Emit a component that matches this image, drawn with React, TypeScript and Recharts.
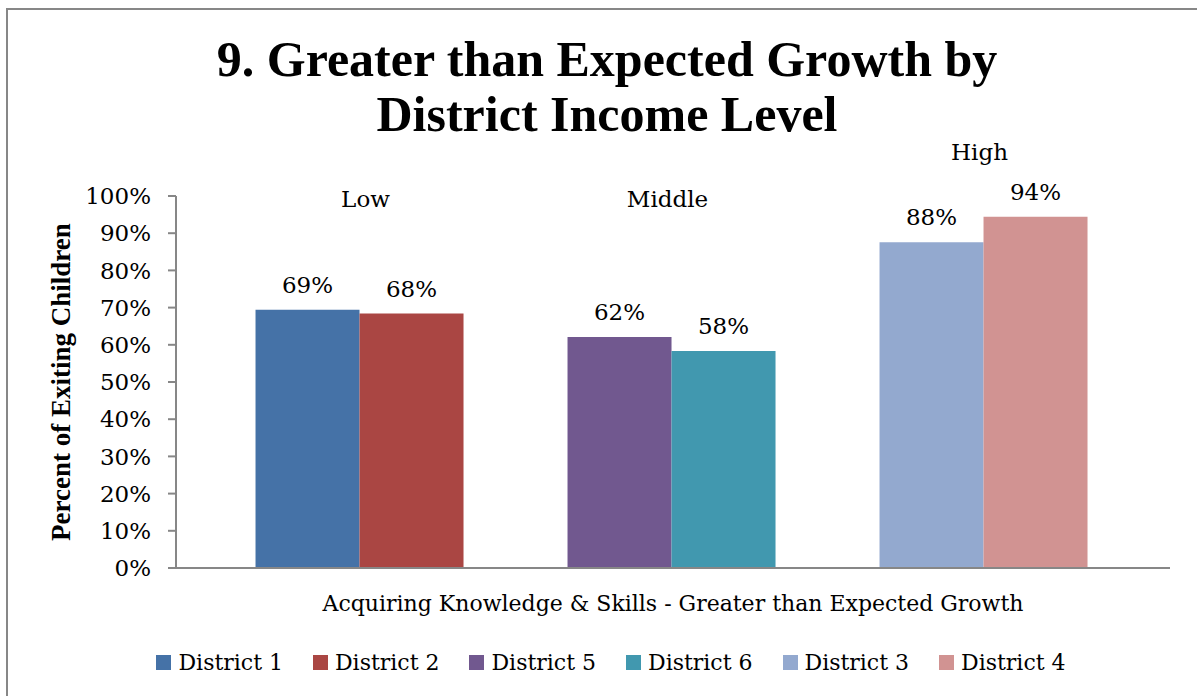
import React from "react"
import { BarChart, Bar, XAxis, YAxis, LabelList, Legend } from "recharts"

const category = "Acquiring Knowledge & Skills - Greater than Expected Growth"
const districts = ["District 1", "District 2", "District 5", "District 6", "District 3", "District 4"]
const values = [0.694, 0.684, 0.621, 0.583, 0.876, 0.944]
const groups = ["Low", "Middle", "High"]
const yTicks = [0, 0.1, 0.2, 0.3, 0.4, 0.5, 0.6, 0.7, 0.8, 0.9, 1]

const colors = ["#4572A7", "#AA4643", "#71588F", "#4198AF", "#93A9CF", "#D19392"]
const groupLabelY = [201, 201, 154]
const groupLabelDx = [6, -4, -4]

const serif = "'DejaVu Serif', serif"
const axisGray = "#878787"

// one row, with an empty slot between each pair of districts
const row: Record<string, string | number | null> = { name: category }
districts.forEach((d, i) => {
  row[d] = values[i]
})
row.gapA = null
row.gapB = null
const data = [row]

const slots = [districts[0], districts[1], "gapA", districts[2], districts[3], "gapB", districts[4], districts[5]]

const pct = (v: number) => `${Math.round(v * 100)}%`

function YTitle(props: any) {
  const vb = props.viewBox || {}
  const cx = vb.x + 64
  const cy = vb.y + vb.height / 2
  return (
    <text
      x={cx}
      y={cy}
      transform={`rotate(-90 ${cx} ${cy})`}
      textAnchor="middle"
      dominantBaseline="middle"
      fontFamily="'Liberation Serif', serif"
      fontWeight="bold"
      fontSize={27}
      fill="#000"
    >
      Percent of Exiting Children
    </text>
  )
}

function XTitle(props: any) {
  const vb = props.viewBox || {}
  return (
    <text
      x={vb.x + vb.width / 2}
      y={vb.y + 37}
      textAnchor="middle"
      dominantBaseline="middle"
      fontFamily={serif}
      fontSize={22}
      fill="#000"
    >
      {category}
    </text>
  )
}

function groupLabel(gi: number) {
  return (props: any) => {
    if (props.index !== 0) return null
    return (
      <text
        x={props.x + groupLabelDx[gi]}
        y={groupLabelY[gi]}
        textAnchor="middle"
        dominantBaseline="middle"
        fontFamily={serif}
        fontSize={23}
        fill="#000"
      >
        {groups[gi]}
      </text>
    )
  }
}

function LegendBox() {
  return (
    <div style={{ display: "flex", justifyContent: "center", gap: 30, fontFamily: serif, fontSize: 22 }}>
      {districts.map((d, i) => (
        <div key={d} style={{ display: "flex", alignItems: "center", gap: 7 }}>
          <span style={{ width: 15, height: 15, background: colors[i], display: "inline-block" }} />
          <span>{d}</span>
        </div>
      ))}
    </div>
  )
}

export default function App() {
  return (
    <div style={{ position: "absolute", left: 0, top: 0, width: 1197, height: 696, overflow: "hidden", background: "#fff" }}>
      <div
        style={{
          position: "absolute",
          left: 6,
          top: 8,
          width: 1300,
          height: 800,
          border: `2px solid ${axisGray}`,
        }}
      />
      <div
        style={{
          position: "absolute",
          left: 0,
          top: 32,
          width: 1214,
          textAlign: "center",
          fontFamily: "'Liberation Serif', serif",
          fontWeight: "bold",
          fontSize: 50,
          lineHeight: "55px",
        }}
      >
        9. Greater than Expected Growth by
        <br />
        District Income Level
      </div>
      <div style={{ position: "absolute", left: 0, top: 0 }}>
        <BarChart
          width={1197}
          height={696}
          data={data}
          margin={{ top: 196, right: 27, left: 0, bottom: 0 }}
          barCategoryGap="8%"
          barGap={0}
        >
          <XAxis
            dataKey="name"
            height={128}
            tick={false}
            tickLine={false}
            axisLine={{ stroke: axisGray, strokeWidth: 2 }}
            label={<XTitle />}
          />
          <YAxis
            width={176}
            domain={[0, 1]}
            ticks={yTicks}
            interval={0}
            tickFormatter={pct}
            tickSize={8}
            tickMargin={17}
            axisLine={{ stroke: axisGray, strokeWidth: 2 }}
            tickLine={{ stroke: axisGray, strokeWidth: 2 }}
            tick={{ fill: "#000", fontFamily: serif, fontSize: 23 }}
            label={<YTitle />}
          />
          <Legend
            layout="horizontal"
            verticalAlign="middle"
            align="center"
            wrapperStyle={{ top: 650, left: 0, width: 1222 }}
            content={<LegendBox />}
          />
          {slots.map((key) => {
            const di = districts.indexOf(key)
            if (di < 0) {
              return <Bar key={key} dataKey={key} fill="transparent" legendType="none" isAnimationActive={false} />
            }
            return (
              <Bar key={key} dataKey={key} fill={colors[di]} isAnimationActive={false}>
                <LabelList
                  dataKey={key}
                  position="top"
                  offset={17}
                  formatter={(v: any) => pct(Number(v))}
                  fill="#000"
                  style={{ fontFamily: serif, fontSize: 23 }}
                />
                {di % 2 === 1 ? <LabelList dataKey={key} content={groupLabel((di - 1) / 2)} /> : null}
              </Bar>
            )
          })}
        </BarChart>
      </div>
    </div>
  )
}
